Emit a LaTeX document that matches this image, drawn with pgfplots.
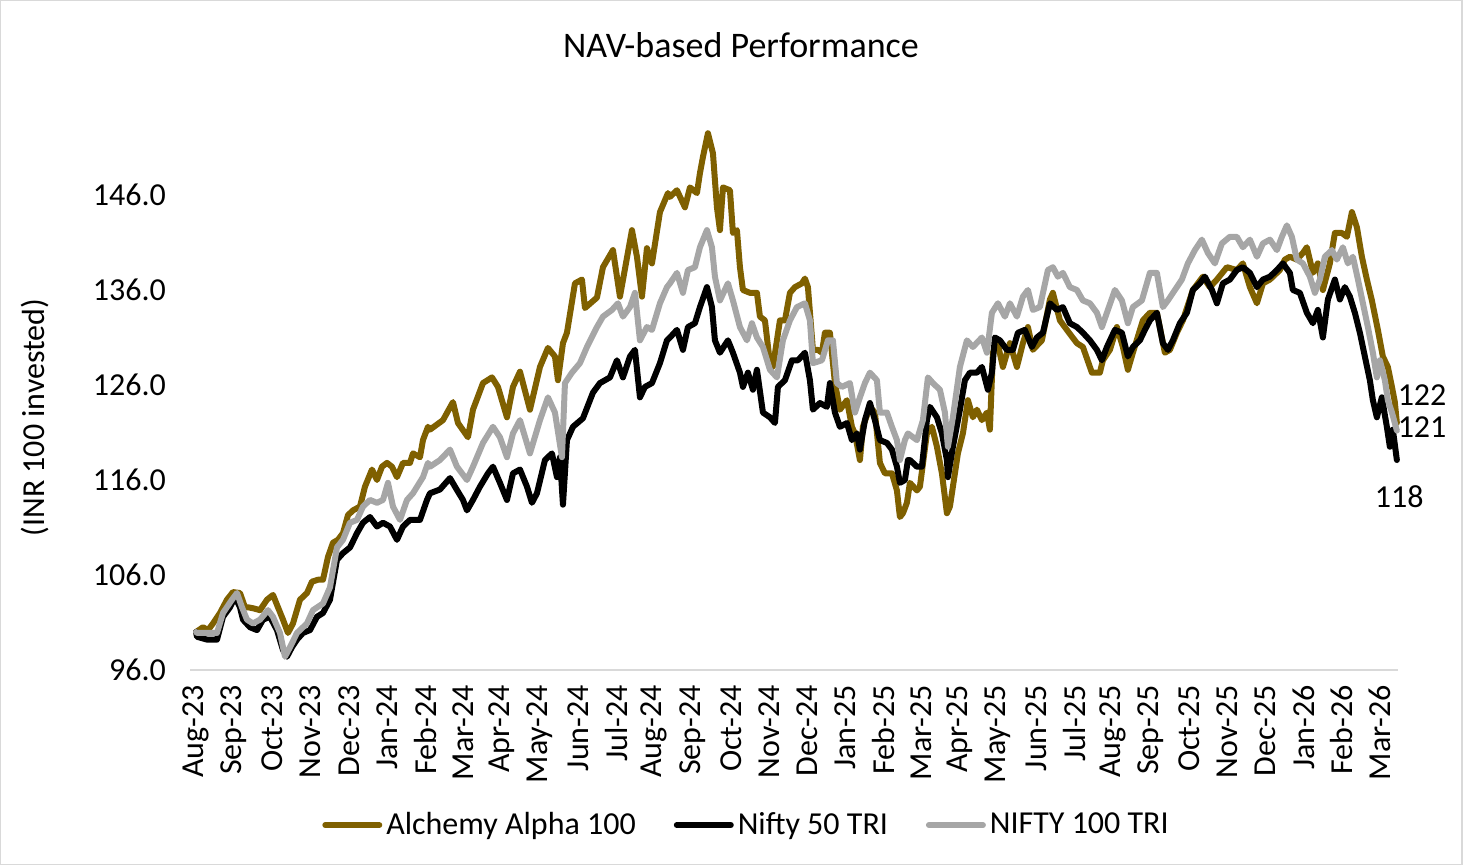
\documentclass[border=0pt]{standalone}
\usepackage{pgfplots}
\pgfplotsset{compat=1.18}
\usepackage{pgfplotstable}
\usepackage{fontspec}
\setmainfont{Carlito}
\definecolor{goldline}{HTML}{7F6000}
\definecolor{greyline}{HTML}{A6A6A6}
\definecolor{axisgrey}{HTML}{D9D9D9}

% t = position index (38.2 per month from 1 Aug 2023), v = value of INR 100 invested
\pgfplotstableread{
t v
0 100.0
7 100.5
12 100.2
17 100.9
24 102.0
31 103.4
37 104.2
44 104.1
49 102.6
52 102.6
57 102.5
64 102.3
71 103.4
77 103.9
82 102.6
87 101.3
92 99.9
97 100.9
104 103.4
111 104.1
116 105.3
122 105.5
127 105.5
132 107.9
137 109.4
142 109.7
147 110.4
152 112.3
157 112.8
164 113.2
169 115.3
176 117.1
181 116.0
186 117.4
191 117.8
196 117.4
201 116.3
207 117.8
214 117.8
217 118.8
224 118.4
227 120.2
232 121.6
234 121.3
247 122.3
257 124.2
262 122.0
272 120.5
277 123.4
287 126.2
296 126.8
302 125.8
311 122.6
317 125.8
324 127.4
334 123.4
344 127.9
352 129.9
359 129.0
362 126.5
367 130.4
371 131.5
379 136.7
386 137.1
389 134.1
401 135.2
407 138.4
417 140.2
424 135.3
436 142.3
441 139.5
446 135.3
451 140.4
456 138.8
464 144.2
472 146.2
474 145.8
481 146.5
489 144.7
494 146.8
501 146.2
504 148.3
507 150.0
512 152.5
517 150.4
521 144.7
524 142.3
527 146.8
534 146.5
537 142.0
541 142.3
544 138.4
547 136.0
554 135.7
561 135.7
564 133.2
569 132.8
574 128.3
577 127.9
584 132.8
589 132.8
594 135.7
599 136.3
606 136.7
609 137.2
612 136.3
617 129.7
622 129.7
626 129.4
629 131.5
634 131.5
639 126.2
644 123.4
651 124.4
656 121.6
659 120.9
664 118.1
667 121.6
674 123.7
679 123.1
684 117.8
689 116.7
696 116.7
701 114.9
704 112.1
707 112.5
711 113.6
714 115.7
721 114.9
724 115.3
731 120.9
736 121.6
741 119.5
746 116.7
751 112.5
754 113.2
757 115.3
762 118.8
767 120.9
772 124.4
777 122.6
781 123.4
786 122.3
791 123.1
794 121.3
797 129.4
801 130.7
807 127.9
814 130.4
821 127.9
827 130.4
832 132.1
837 129.7
846 130.7
854 135.0
857 135.7
864 132.8
871 131.8
881 130.4
887 130.0
896 127.3
904 127.3
907 128.6
914 129.7
921 132.1
927 130.0
932 127.6
937 129.4
947 132.8
954 133.6
961 133.6
969 129.4
974 129.7
981 131.5
987 132.8
997 136.0
1007 137.4
1014 136.3
1021 137.1
1031 138.4
1041 138.1
1047 138.8
1054 136.3
1061 134.6
1067 136.7
1074 137.1
1084 138.1
1089 139.2
1094 139.5
1101 139.2
1107 139.9
1111 140.5
1117 137.8
1122 138.8
1127 136.0
1134 138.8
1139 142.0
1146 142.0
1151 141.6
1156 144.2
1161 142.6
1166 139.5
1171 137.1
1176 134.9
1182 131.8
1187 129.0
1192 127.9
1196 125.8
1199 124.2
1201 122.0
}\alchemy

\pgfplotstableread{
t v
0 100.0
1 99.5
11 99.2
21 99.2
27 101.6
34 102.6
39 103.7
44 102.6
47 101.3
54 100.5
61 100.2
67 101.3
74 101.6
81 100.2
87 98.1
91 97.4
96 98.4
101 99.2
107 99.9
114 100.2
121 101.6
127 102.0
134 103.4
141 107.6
147 108.3
154 108.9
161 110.4
167 111.5
174 112.1
181 111.1
187 111.5
194 111.1
201 109.7
207 111.1
214 111.8
224 111.8
231 113.9
234 114.6
244 115.0
254 116.2
259 115.3
267 113.9
271 112.8
277 113.9
284 115.3
292 116.7
297 117.4
304 115.7
311 113.9
317 116.7
324 117.1
331 115.3
336 113.6
341 114.6
349 118.1
356 118.8
361 116.3
364 118.4
367 113.4
371 120.2
377 121.6
387 122.5
397 125.2
404 126.2
414 126.8
421 128.6
427 126.8
434 129.0
439 129.7
444 124.7
449 125.8
456 126.2
464 128.3
471 130.7
474 131.0
481 131.8
487 129.7
492 132.1
499 132.5
504 134.2
511 136.3
516 134.2
519 130.7
524 129.4
532 130.7
537 129.4
544 127.3
547 125.8
552 127.3
557 125.5
561 127.6
567 123.1
574 122.6
579 122.0
582 125.8
589 126.5
596 128.6
602 128.6
609 129.4
614 126.5
617 123.4
624 124.1
631 123.7
634 126.2
639 123.1
644 121.6
651 122.0
656 120.2
661 120.9
664 119.2
669 122.3
674 124.1
679 122.3
684 120.2
691 119.9
696 119.2
701 117.4
704 115.7
709 116.0
712 118.1
714 118.1
721 117.4
726 117.4
731 122.3
734 123.7
741 122.6
746 120.9
751 118.1
752 116.3
757 119.5
764 123.4
769 126.5
774 127.3
781 127.3
786 127.9
792 125.5
796 127.3
799 131.0
804 130.7
811 129.7
817 129.7
822 131.5
829 131.8
836 130.0
841 131.0
847 131.5
854 134.6
861 133.9
867 134.2
874 132.5
881 132.1
887 131.5
894 130.7
901 129.7
906 128.6
911 130.0
919 131.8
926 131.5
932 129.0
937 130.0
944 130.7
949 131.8
954 132.8
961 133.6
967 130.4
972 129.7
977 130.7
984 132.5
991 133.6
997 136.0
1004 136.7
1009 137.4
1016 136.0
1021 134.6
1027 136.7
1034 137.1
1041 138.1
1047 138.4
1054 137.8
1061 136.3
1067 137.1
1074 137.4
1081 138.1
1087 138.8
1094 137.8
1097 136.0
1104 135.7
1111 133.6
1117 132.5
1122 133.9
1127 131.0
1132 135.0
1139 137.1
1144 135.0
1149 136.3
1154 135.3
1159 133.6
1164 131.5
1169 129.0
1174 126.5
1177 124.4
1181 122.6
1186 124.7
1191 121.6
1194 119.5
1197 121.3
1201 118.1
}\niftyfifty

\pgfplotstableread{
t v
0 100.0
1 99.9
11 99.9
21 99.9
27 102.0
36 103.4
41 104.1
46 102.6
51 101.3
57 100.9
64 101.3
72 102.3
77 101.6
84 99.9
89 97.4
94 98.4
101 99.9
111 100.9
117 102.3
127 103.0
134 104.7
141 108.9
147 109.7
154 111.5
161 111.8
167 113.2
174 113.9
181 113.6
187 113.9
192 115.7
197 113.2
204 111.8
211 113.9
217 114.6
227 116.3
232 117.8
234 117.4
244 118.1
254 119.2
261 117.4
271 116.0
277 117.4
287 119.9
297 121.6
304 120.5
311 118.4
317 120.9
324 122.3
334 118.8
344 122.3
352 124.7
359 123.1
366 118.4
369 126.2
376 127.3
384 128.3
391 130.0
401 132.1
407 133.2
416 133.9
422 134.6
427 133.2
434 134.2
439 135.7
444 130.7
451 132.1
456 131.8
464 134.6
471 136.3
474 136.7
481 137.8
487 135.7
492 138.1
499 138.4
504 140.5
511 142.3
516 140.5
519 137.4
524 134.9
532 136.7
537 134.9
544 132.1
551 130.7
556 132.5
561 131.0
567 130.0
574 127.6
581 126.8
587 130.7
594 132.8
601 134.2
609 134.6
614 132.8
617 128.3
626 128.6
632 130.7
637 130.7
641 126.2
646 125.8
654 126.2
659 123.1
664 124.7
669 126.2
674 127.3
681 126.5
684 123.1
691 123.1
696 121.6
701 120.2
704 118.1
709 120.2
712 120.9
721 120.2
727 122.3
732 126.8
737 126.2
744 125.5
749 123.1
752 119.5
757 122.6
764 127.9
771 130.7
777 130.0
786 131.0
791 129.4
796 133.6
802 134.6
809 133.2
814 134.6
821 133.2
827 135.3
832 136.0
837 133.9
844 134.2
852 138.1
857 138.4
862 137.4
867 137.8
874 136.3
881 136.0
887 134.9
894 134.6
901 133.6
906 132.1
911 133.6
919 136.0
926 134.9
932 132.5
937 134.2
946 134.9
954 137.8
961 137.8
967 134.2
972 134.9
979 136.0
986 137.1
992 138.8
999 140.2
1006 141.3
1012 139.9
1019 138.8
1026 140.9
1034 141.6
1041 141.6
1047 140.5
1054 141.3
1061 139.5
1067 140.9
1074 141.3
1081 140.2
1086 141.6
1091 142.8
1096 141.6
1101 139.2
1107 138.8
1114 137.4
1119 135.7
1124 137.1
1129 139.5
1136 140.2
1141 139.2
1147 140.5
1152 138.8
1157 139.5
1162 137.1
1167 134.6
1172 132.1
1177 129.4
1181 126.8
1184 128.6
1189 126.5
1192 124.4
1196 123.1
1201 121.2
}\niftyhundred

\begin{document}
\begin{tikzpicture}[x=1pt,y=1pt]
\path[use as bounding box] (0,0) rectangle (733,432.5);
\draw[axisgrey, line width=0.6pt] (0.3,0.3) rectangle (731,432.2);
\begin{axis}[
  at={(95pt,97.5pt)}, anchor=south west,
  scale only axis, width=604pt, height=285pt,
  xmin=-0.157, xmax=31.47, ymin=96, ymax=156,
  clip=false,
  axis x line*=bottom, axis y line*=left,
  x axis line style={-, draw=axisgrey, line width=1pt},
  y axis line style={draw=none},
  tick style={draw=none},
  xtick={0,...,31},
  xticklabels={Aug-23,Sep-23,Oct-23,Nov-23,Dec-23,Jan-24,Feb-24,Mar-24,Apr-24,May-24,Jun-24,Jul-24,Aug-24,Sep-24,Oct-24,Nov-24,Dec-24,Jan-25,Feb-25,Mar-25,Apr-25,May-25,Jun-25,Jul-25,Aug-25,Sep-25,Oct-25,Nov-25,Dec-25,Jan-26,Feb-26,Mar-26},
  ytick={96,106,116,126,136,146},
  /pgf/number format/assume math mode=true,
  y tick label style={/pgf/number format/fixed, /pgf/number format/fixed zerofill, /pgf/number format/precision=1, font=\fontsize{16}{19}\selectfont, xshift=-8.5pt},
  x tick label style={yshift=-4pt, rotate=90, anchor=east, font=\fontsize{16}{19}\selectfont},
  legend style={at={(0.4615,-0.272)}, anchor=center, draw=none, fill=none,
    font=\fontsize{16}{19}\selectfont, legend columns=3,
    /tikz/every even column/.append style={column sep=17pt}},
  legend image code/.code={\draw[#1] (0pt,0pt) -- (27pt,0pt);},
  every axis plot/.append style={line width=3pt, line join=round, line cap=round},
]
\addplot[goldline] table[x expr=\thisrow{t}/38.2, y=v] {\alchemy};
\addlegendentry{Alchemy Alpha 100}
\addplot[black] table[x expr=\thisrow{t}/38.2, y=v] {\niftyfifty};
\addlegendentry{Nifty 50 TRI}
\addplot[greyline] table[x expr=\thisrow{t}/38.2, y=v] {\niftyhundred};
\addlegendentry{NIFTY 100 TRI}
\node[font=\fontsize{16}{19}\selectfont] at (axis cs:32.1,124.95) {122};
\node[font=\fontsize{16}{19}\selectfont] at (axis cs:32.1,121.6) {121};
\node[font=\fontsize{16}{19}\selectfont] at (axis cs:31.5,114.2) {118};
\end{axis}
\node[font=\fontsize{18}{21}\selectfont] at (370.5,410) {NAV-based Performance};
\node[rotate=90, font=\fontsize{16}{19}\selectfont] at (17.5,223.75) {(INR 100 invested)};
\end{tikzpicture}
\end{document}
